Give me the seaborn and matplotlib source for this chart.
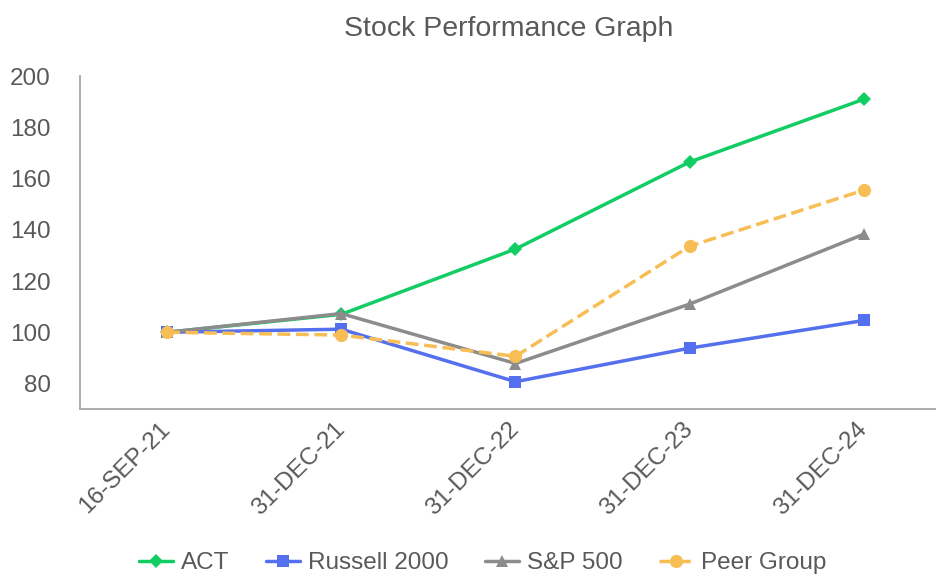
import matplotlib
matplotlib.use("Agg")
import matplotlib.pyplot as plt
import seaborn as sns
import pandas as pd

dates = ["16-SEP-21", "31-DEC-21", "31-DEC-22", "31-DEC-23", "31-DEC-24"]
act = [100.0, 107.0, 132.5, 166.5, 191.0]
russell = [100.0, 101.2, 80.7, 93.8, 104.6]
sp500 = [100.0, 107.3, 87.8, 111.0, 138.3]
peer = [100.0, 98.9, 90.6, 133.6, 155.5]

series = [
    ("ACT", act, "#11cd63", "D", "-", 7),
    ("Russell 2000", russell, "#5470ee", "s", "-", 8.5),
    ("S&P 500", sp500, "#8c8c8c", "^", "-", 9),
    ("Peer Group", peer, "#f7be55", "o", "--", 9.5),
]

sns.set_theme(style="white")
plt.rcParams["font.family"] = ["Liberation Sans", "DejaVu Sans"]

fig = plt.figure(figsize=(9.37, 5.77), dpi=100)
ax = fig.add_axes([0.0854, 0.291, 0.9146, 0.577])

for name, vals, color, marker, ls, ms in series:
    df = pd.DataFrame({"x": range(len(dates)), "y": vals})
    sns.lineplot(data=df, x="x", y="y", ax=ax, color=color, marker=marker,
                 linestyle=ls, linewidth=2.5, markersize=ms, markeredgewidth=0,
                 label=name, sort=False, dashes=(3.5, 2.5) if ls == "--" else None)

ax.set_xlim(-0.5, 4.42)
ax.set_ylim(70, 200)
ax.set_yticks([80, 100, 120, 140, 160, 180, 200])
ax.set_xticks(range(len(dates)))
ax.set_xticklabels(dates, rotation=45, ha="right", va="center", rotation_mode="anchor")
ax.tick_params(axis="both", length=0, labelsize=17.5, colors="#595959")
ax.tick_params(axis="x", pad=12)
ax.tick_params(axis="y", pad=21)
ax.set_xlabel("")
ax.set_ylabel("")
for s in ["top", "right"]:
    ax.spines[s].set_visible(False)
for s in ["left", "bottom"]:
    ax.spines[s].set_color("#a6a6a6")
    ax.spines[s].set_linewidth(1.3)

ax.set_title("Stock Performance Graph", fontsize=20.5, color="#595959", pad=29)

handles, labels = ax.get_legend_handles_labels()
ax.legend_.remove()
fig.legend(handles, labels, loc="lower center", bbox_to_anchor=(0.515, -0.033), ncol=4,
           frameon=False, fontsize=17.5, labelcolor="#595959", handlelength=1.4,
           columnspacing=1.5, handletextpad=0.33)

fig.savefig("out.png", dpi=100)
